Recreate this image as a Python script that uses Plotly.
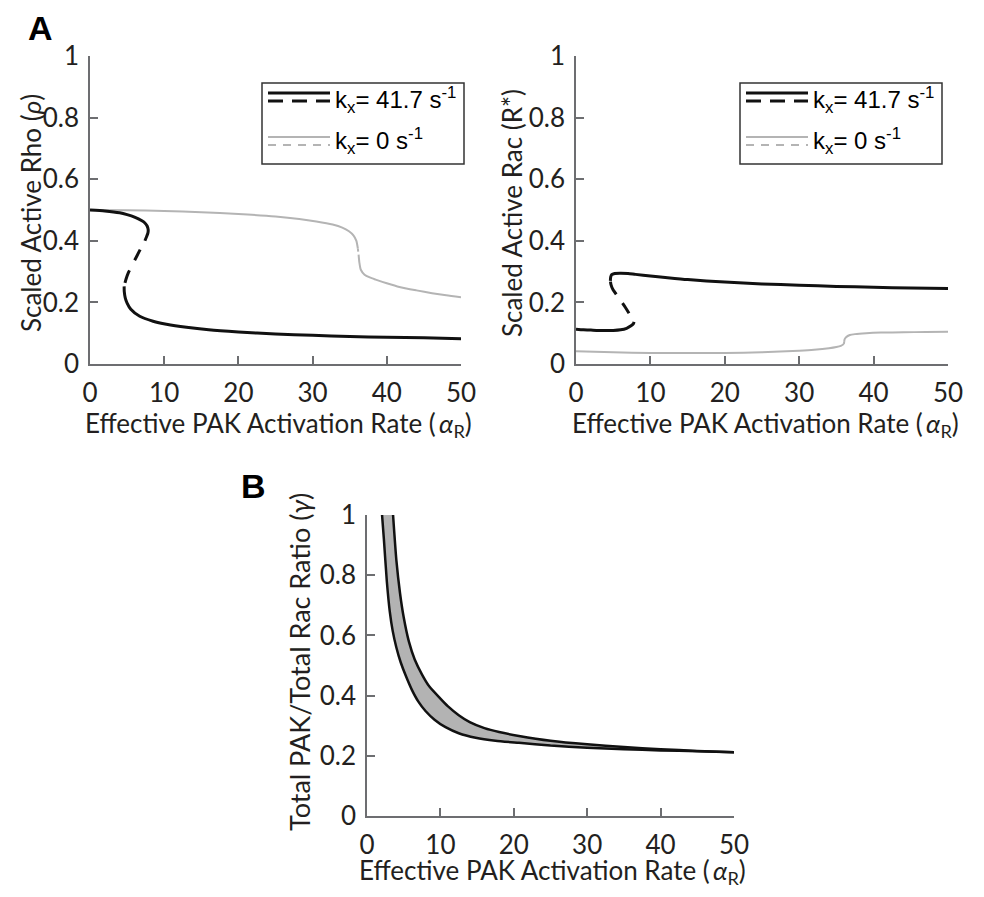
import plotly.graph_objects as go

# page body has an 8px margin: the figure is drawn 8px in from the window corner
OFF = 8
W, H = 984 - 2 * OFF, 897 - 2 * OFF

# ---------------- data ----------------
# Panel A left: Scaled Active Rho, k_x = 41.7 (black)
rho_k_upper_x = [0, 2, 4, 5, 6, 7, 7.4, 7.7, 7.84, 7.8, 7.65, 7.4]
rho_k_upper_y = [0.500, 0.497, 0.491, 0.485, 0.477, 0.465, 0.458, 0.448, 0.436, 0.425, 0.415, 0.400]
rho_k_mid_x = [7.4, 6.9, 6.3, 5.7, 5.2, 4.85, 4.6]
rho_k_mid_y = [0.400, 0.378, 0.350, 0.322, 0.298, 0.275, 0.252]
rho_k_lower_x = [4.6, 4.62, 4.75, 5.0, 5.5, 6.7, 8.5, 10.3, 13, 16, 20, 25, 30, 35, 40, 45, 50]
rho_k_lower_y = [0.252, 0.235, 0.215, 0.198, 0.178, 0.155, 0.139, 0.129, 0.119, 0.111, 0.104, 0.097, 0.093, 0.089, 0.087, 0.085, 0.082]

# k_x = 0 (gray)
rho_0_upper_x = [0, 5, 10, 15, 20, 25, 28.2, 30.5, 32.7, 34, 34.9, 35.5, 35.9, 36.1]
rho_0_upper_y = [0.500, 0.499, 0.497, 0.493, 0.487, 0.479, 0.471, 0.463, 0.453, 0.443, 0.431, 0.418, 0.400, 0.375]
rho_0_mid_x = [36.1, 36.15, 36.2]
rho_0_mid_y = [0.375, 0.365, 0.355]
rho_0_lower_x = [36.2, 36.3, 36.5, 37, 37.7, 38.5, 40, 41.7, 44, 46.1, 48, 50]
rho_0_lower_y = [0.355, 0.330, 0.306, 0.290, 0.281, 0.274, 0.262, 0.250, 0.239, 0.230, 0.223, 0.217]

# Panel A right: Scaled Active Rac, k_x = 41.7 (black)
rac_k_lower_x = [0, 1, 2, 3, 4, 5, 6, 6.8, 7.4, 7.7, 7.8]
rac_k_lower_y = [0.113, 0.111, 0.110, 0.109, 0.109, 0.109, 0.111, 0.116, 0.124, 0.130, 0.137]
rac_k_mid_x = [7.8, 7.5, 6.6, 5.6, 5.0, 4.7, 4.62]
rac_k_mid_y = [0.137, 0.150, 0.185, 0.220, 0.240, 0.258, 0.270]
rac_k_upper_x = [4.62, 4.66, 4.8, 5.2, 5.9, 7, 8, 10, 12, 15, 20, 25, 30, 35, 40, 45, 50]
rac_k_upper_y = [0.270, 0.282, 0.290, 0.294, 0.295, 0.294, 0.291, 0.286, 0.281, 0.274, 0.266, 0.260, 0.256, 0.252, 0.249, 0.247, 0.245]

# k_x = 0 (gray)
rac_0_lower_x = [0, 5, 10, 15, 20, 25, 30, 32, 34, 35, 35.6, 36.0]
rac_0_lower_y = [0.041, 0.038, 0.036, 0.036, 0.036, 0.038, 0.043, 0.046, 0.051, 0.055, 0.059, 0.065]
rac_0_mid_x = [36.0, 36.05]
rac_0_mid_y = [0.065, 0.072]
rac_0_upper_x = [36.05, 36.1, 36.3, 36.8, 37.5, 39, 41, 44, 47, 50]
rac_0_upper_y = [0.072, 0.080, 0.087, 0.094, 0.097, 0.100, 0.102, 0.103, 0.104, 0.105]

# Panel B: bistable region boundaries (gamma vs alpha_R)
gam_lo_x = [2.05, 2.3, 2.7, 3.1, 3.5, 4.0, 4.6, 5.3, 6.1, 7.0, 8.0, 9.2, 10.7, 12.5, 14.8, 17.5, 20.7, 25, 30, 35, 40, 45, 50]
gam_lo_y = [1.0, 0.92, 0.78, 0.68, 0.615, 0.56, 0.51, 0.465, 0.42, 0.38, 0.348, 0.32, 0.295, 0.275, 0.26, 0.25, 0.243, 0.234, 0.227, 0.222, 0.218, 0.215, 0.212]
gam_hi_x = [3.55, 4.0, 4.5, 5.0, 5.7, 6.5, 7.5, 8.5, 10, 11, 12.5, 14, 16, 18, 20.7, 25, 30, 35, 40, 45, 50]
gam_hi_y = [1.0, 0.85, 0.74, 0.66, 0.58, 0.52, 0.47, 0.43, 0.39, 0.365, 0.335, 0.312, 0.292, 0.279, 0.266, 0.250, 0.238, 0.229, 0.222, 0.216, 0.212]

tick_vals_x = [0, 10, 20, 30, 40, 50]
tick_text_x = ["0", "10", "20", "30", "40", "50"]
tick_vals_y = [0, 0.2, 0.4, 0.6, 0.8, 1]
tick_text_y = ["0", "0.2", "0.4", "0.6", "0.8", "1"]

legend_labels = ["k<sub>x</sub>= 41.7 s<sup>-1</sup>", "k<sub>x</sub>= 0 s<sup>-1</sup>"]

# ---------------- styling ----------------
BLACK = "#111111"
GRAY = "#b4b4b4"
AXC = "#6d6e71"
TXT = "#231f20"
FONT = "Lato, 'Open Sans', sans-serif"
DASH_K = "0px,10px,12px,11px,14px,10px,12px,10px"


def px(x):
    return (x - OFF) / W


def py(y):
    return 1 - (y - OFF) / H


fig = go.Figure()


def add_line(x, y, color, width, dash, xa, ya):
    fig.add_trace(go.Scatter(x=x, y=y, mode="lines", xaxis=xa, yaxis=ya,
                             line=dict(color=color, width=width, dash=dash, shape="spline", smoothing=0.6),
                             showlegend=False, hoverinfo="skip"))


# left panel
add_line(rho_0_upper_x, rho_0_upper_y, GRAY, 2, "solid", "x", "y")
add_line(rho_0_mid_x, rho_0_mid_y, GRAY, 2, "3px,4px", "x", "y")
add_line(rho_0_lower_x, rho_0_lower_y, GRAY, 2, "solid", "x", "y")
add_line(rho_k_upper_x, rho_k_upper_y, BLACK, 3, "solid", "x", "y")
add_line(rho_k_mid_x, rho_k_mid_y, BLACK, 3, DASH_K, "x", "y")
add_line(rho_k_lower_x, rho_k_lower_y, BLACK, 3, "solid", "x", "y")

# right panel
add_line(rac_0_lower_x, rac_0_lower_y, GRAY, 2, "solid", "x2", "y2")
add_line(rac_0_mid_x, rac_0_mid_y, GRAY, 2, "3px,4px", "x2", "y2")
add_line(rac_0_upper_x, rac_0_upper_y, GRAY, 2, "solid", "x2", "y2")
add_line(rac_k_lower_x, rac_k_lower_y, BLACK, 3, "solid", "x2", "y2")
add_line(rac_k_mid_x, rac_k_mid_y, BLACK, 3, DASH_K, "x2", "y2")
add_line(rac_k_upper_x, rac_k_upper_y, BLACK, 3, "solid", "x2", "y2")

# panel B band
fig.add_trace(go.Scatter(x=gam_lo_x + gam_hi_x[::-1], y=gam_lo_y + gam_hi_y[::-1],
                         mode="lines", fill="toself", fillcolor="#b3b3b3",
                         line=dict(width=0, color="#b3b3b3", shape="spline", smoothing=0.6),
                         xaxis="x3", yaxis="y3", showlegend=False, hoverinfo="skip"))
add_line(gam_lo_x, gam_lo_y, BLACK, 2.5, "solid", "x3", "y3")
add_line(gam_hi_x, gam_hi_y, BLACK, 2.5, "solid", "x3", "y3")


def xaxis(dom, anchor):
    return dict(domain=dom, anchor=anchor, range=[0, 50], tickvals=tick_vals_x, ticktext=tick_text_x,
                ticks="inside", ticklen=8, tickwidth=1.5, tickcolor=AXC, automargin=False,
                showline=True, linecolor=AXC, linewidth=1.5, showgrid=False, zeroline=False,
                tickfont=dict(family=FONT, size=26, color=TXT), ticklabelstandoff=5, fixedrange=True)


def yaxis(dom, anchor):
    return dict(domain=dom, anchor=anchor, range=[0, 1], tickvals=tick_vals_y, ticktext=tick_text_y,
                ticks="inside", ticklen=8, tickwidth=1.5, tickcolor=AXC, automargin=False,
                showline=True, linecolor=AXC, linewidth=1.5, showgrid=False, zeroline=False,
                tickfont=dict(family=FONT, size=26, color=TXT), ticklabelstandoff=4, fixedrange=True)


fig.update_layout(
    template="none",
    width=W, height=H, autosize=False,
    margin=dict(l=0, r=0, t=0, b=0, pad=0, autoexpand=False),
    paper_bgcolor="white", plot_bgcolor="white",
    xaxis=xaxis([px(90), px(461)], "y"),
    yaxis=yaxis([py(364), py(56)], "x"),
    xaxis2=xaxis([px(576), px(948)], "y2"),
    yaxis2=yaxis([py(364), py(56)], "x2"),
    xaxis3=xaxis([px(367), px(734)], "y3"),
    yaxis3=yaxis([py(816), py(515)], "x3"),
)

ann = []
TF = dict(family=FONT, size=26, color=TXT)
xt = "Effective PAK Activation Rate (\u2009<i>α</i><sub>R</sub>)"
ann.append(dict(text=xt, x=px(278), y=py(424), xref="paper", yref="paper", showarrow=False,
                xanchor="center", yanchor="middle", font=TF))
ann.append(dict(text=xt, x=px(765), y=py(424), xref="paper", yref="paper", showarrow=False,
                xanchor="center", yanchor="middle", font=TF))
ann.append(dict(text=xt, x=px(552), y=py(871), xref="paper", yref="paper", showarrow=False,
                xanchor="center", yanchor="middle", font=TF))
ann.append(dict(text="Scaled Active Rho (<i>ρ</i>)", x=px(31), y=py(213), xref="paper", yref="paper",
                showarrow=False, textangle=-90, xanchor="center", yanchor="middle", font=TF))
ann.append(dict(text="Scaled Active Rac (R*)", x=px(512), y=py(213), xref="paper", yref="paper",
                showarrow=False, textangle=-90, xanchor="center", yanchor="middle", font=TF))
ann.append(dict(text="Total PAK/Total Rac Ratio (<i>γ</i>)", x=px(299), y=py(662), xref="paper", yref="paper",
                showarrow=False, textangle=-90, xanchor="center", yanchor="middle",
                font=dict(family=FONT, size=27, color=TXT)))
PF = dict(family="Liberation Sans, Arial, sans-serif", size=34, color="black")
ann.append(dict(text="<b>A</b>", x=px(40), y=py(28), xref="paper", yref="paper", showarrow=False,
                xanchor="center", yanchor="middle", font=PF))
ann.append(dict(text="<b>B</b>", x=px(253), y=py(486), xref="paper", yref="paper", showarrow=False,
                xanchor="center", yanchor="middle", font=PF))

shapes = []
LF = dict(family="Liberation Sans, Arial, sans-serif", size=24, color="black")
for x0 in (262, 740):
    shapes.append(dict(type="rect", xref="paper", yref="paper", x0=px(x0), x1=px(x0 + 202),
                       y0=py(83), y1=py(164), line=dict(color="#333333", width=1.5), fillcolor="white", layer="below"))
    shapes.append(dict(type="line", xref="paper", yref="paper", x0=px(x0 + 6), x1=px(x0 + 68),
                       y0=py(93), y1=py(93), line=dict(color=BLACK, width=3)))
    shapes.append(dict(type="line", xref="paper", yref="paper", x0=px(x0 + 6), x1=px(x0 + 68),
                       y0=py(101), y1=py(101), line=dict(color=BLACK, width=3, dash="15px,9px")))
    shapes.append(dict(type="line", xref="paper", yref="paper", x0=px(x0 + 6), x1=px(x0 + 68),
                       y0=py(137), y1=py(137), line=dict(color=GRAY, width=2)))
    shapes.append(dict(type="line", xref="paper", yref="paper", x0=px(x0 + 6), x1=px(x0 + 68),
                       y0=py(145), y1=py(145), line=dict(color=GRAY, width=2, dash="8px,7px")))
    ann.append(dict(text=legend_labels[0], x=px(x0 + 71), y=py(100), xref="paper", yref="paper",
                    showarrow=False, xanchor="left", yanchor="middle", font=LF))
    ann.append(dict(text=legend_labels[1], x=px(x0 + 71), y=py(141), xref="paper", yref="paper",
                    showarrow=False, xanchor="left", yanchor="middle", font=LF))

fig.update_layout(annotations=ann, shapes=shapes)
fig.write_html("out.html")
